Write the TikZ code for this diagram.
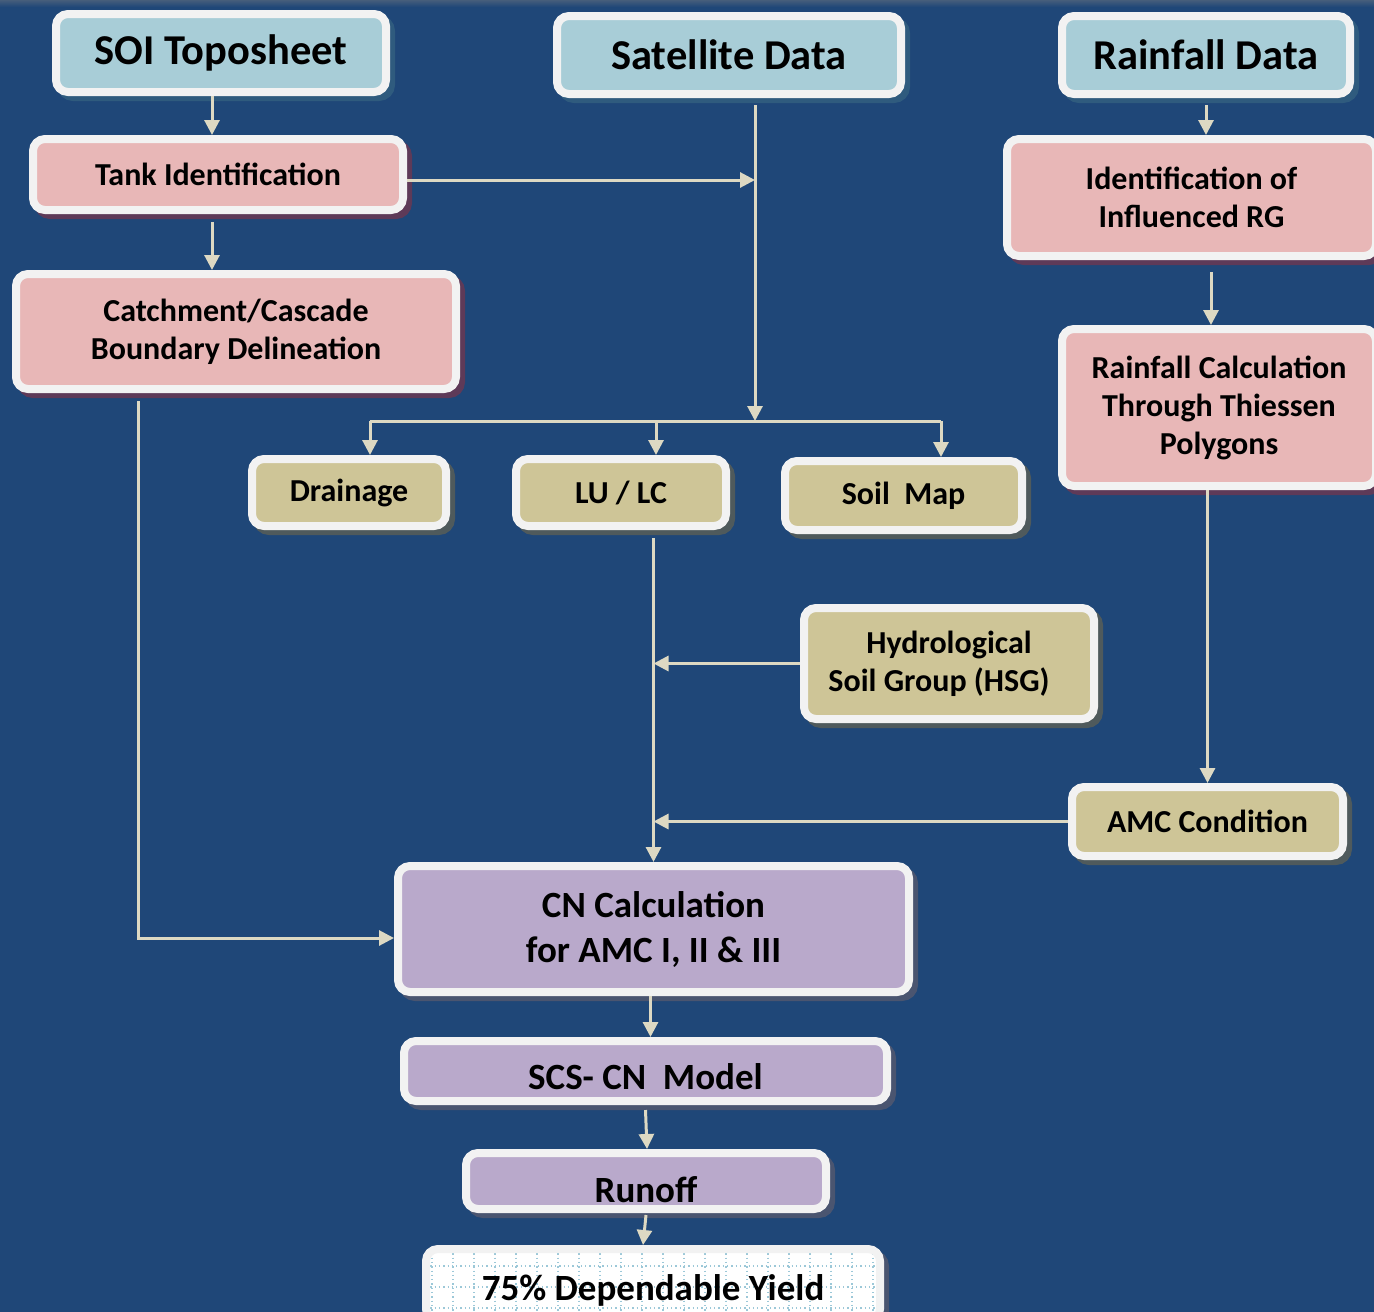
\documentclass[tikz,border=0pt]{standalone}
\usepackage{fontspec}
\setmainfont{Carlito}
\usetikzlibrary{arrows.meta,shadows}
\definecolor{bgc}{HTML}{1F4778}
\definecolor{bluec}{HTML}{A8CDD7}
\definecolor{pinkc}{HTML}{E8B7B7}
\definecolor{khakic}{HTML}{CEC597}
\definecolor{lavc}{HTML}{B9A9CB}
\definecolor{rimc}{HTML}{F2F2F2}
\definecolor{arrc}{HTML}{DDD9C3}
\definecolor{gridc}{HTML}{9CC8D8}
\definecolor{shblue}{HTML}{2F5B7E}
\definecolor{shpink}{HTML}{5E3A58}
\definecolor{shkhaki}{HTML}{4F5A5C}
\definecolor{shlav}{HTML}{4A5570}
\newcommand{\lowertext}[2]{\raisebox{-#1}[\height][\depth]{#2}}
\tikzset{
  box/.style={draw=rimc, line width=8pt, rounded corners=12pt, align=center,
    text=black, font=\bfseries\fontsize{32}{38}\selectfont, inner sep=0pt},
  shad/.style={drop shadow={shadow xshift=5pt, shadow yshift=-5pt, fill=#1, draw=#1, line width=8pt, opacity=1}},
  topbox/.style={box, fill=bluec, shad=shblue, font=\bfseries\fontsize{42.5}{50}\selectfont},
  pinkbox/.style={box, fill=pinkc, shad=shpink},
  khakibox/.style={box, fill=khakic, shad=shkhaki},
  lavbox/.style={box, fill=lavc, shad=shlav, font=\bfseries\fontsize{37}{45}\selectfont},
  arr/.style={draw=arrc, line width=3pt, -{Triangle[width=15pt,length=15pt]}},
  lin/.style={draw=arrc, line width=3pt},
}
\begin{document}
\begin{tikzpicture}[x=1pt,y=-1pt]
\useasboundingbox (0,0) rectangle (1374,1312);
\fill[bgc] (0,0) rectangle (1374,1312);
\shade[top color=bgc!60!gray, bottom color=bgc] (0,0) rectangle (1374,7);

% top row
\node[topbox, minimum width=330pt, minimum height=78pt] (soi) at (221,53) {SOI Toposheet};
\node[topbox, minimum width=344pt, minimum height=78pt] (sat) at (729,55) {Satellite Data};
\node[topbox, minimum width=288pt, minimum height=78pt] (rain) at (1206,55) {Rainfall Data};

% pink
\node[pinkbox, minimum width=370pt, minimum height=71pt] (tank) at (218,174.5) {Tank Identification};
\node[pinkbox, minimum width=369pt, minimum height=117pt] (idrg) at (1191.5,197.5) {Identification of\\Influenced RG};
\node[pinkbox, minimum width=440pt, minimum height=115pt] (catch) at (236,331.5) {Catchment/Cascade\\Boundary Delineation};
\node[pinkbox, minimum width=314pt, minimum height=157pt] (rcalc) at (1219,407.5) {Rainfall Calculation\\Through Thiessen\\Polygons};

% khaki
\node[khakibox, minimum width=194pt, minimum height=67pt] (drain) at (349,492.5) {Drainage};
\node[khakibox, minimum width=210pt, minimum height=67pt] (lulc) at (621,492.5) {LU / LC};
\node[khakibox, minimum width=237pt, minimum height=69pt] (soil) at (903.5,495.5) {Soil\ \ Map};
\node[khakibox, minimum width=290pt, minimum height=111pt] (hsg) at (949,663.5) {Hydrological\\\hspace*{-20pt}Soil Group (HSG)};
\node[khakibox, minimum width=271pt, minimum height=69pt] (amc) at (1207.5,821.5) {AMC Condition};

% lavender
\node[lavbox, minimum width=511pt, minimum height=126pt] (cn) at (653.5,929) {CN Calculation\\for AMC I, II \& III};
\node[lavbox, minimum width=483pt, minimum height=60pt] (scs) at (645.5,1071) {\lowertext{6pt}{SCS- CN\ \ Model}};
\node[lavbox, minimum width=360pt, minimum height=56pt] (runoff) at (646,1181) {\lowertext{9pt}{Runoff}};

% yield
\node[box, fill=white, shad=shlav, minimum width=454pt, minimum height=72pt,
  font=\bfseries\fontsize{37}{45}\selectfont,
  path picture={
    \foreach \i in {0,...,22}
      \draw[gridc, line width=1.3pt, dash pattern=on 1.3pt off 3pt]
        ([xshift=\i*21pt+6pt]path picture bounding box.north west) -- ([xshift=\i*21pt+6pt]path picture bounding box.south west);
    \foreach \j in {1,...,4}
      \draw[gridc, line width=1.3pt, dash pattern=on 1.3pt off 3pt]
        ([yshift=-\j*21pt+4pt]path picture bounding box.north west) -- ([yshift=-\j*21pt+4pt]path picture bounding box.north east);
  }] (yield) at (653,1285) {\lowertext{5pt}{75\% Dependable Yield}};

% junction coordinates
\coordinate (j1) at (755,180);
\coordinate (j2) at (755,421);
\coordinate (b1) at (370,421);
\coordinate (b2) at (656,421);
\coordinate (b3) at (941,421);
\coordinate (r2) at (1211,272);
\coordinate (c1) at (212,0);

% connectors
\draw[arr] (soi.south -| c1) -- (tank.north -| c1);
\draw[arr] ([yshift=-8pt]tank.south -| c1) -- (catch.north -| c1);
\draw[arr] (tank.east |- j1) -- (j1);
\draw[arr] ([xshift=26pt,yshift=-7pt]sat.south) -- (j2);
\draw[lin] (b1) -- (b3);
\draw[arr] (b1) -- (b1 |- drain.north);
\draw[arr] (b2) -- (b2 |- lulc.north);
\draw[arr] (b3) -- (b3 |- soil.north);
\draw[arr] ([yshift=-7pt]rain.south) -- (rain.south |- idrg.north);
\draw[arr] (r2) -- (r2 |- rcalc.north);
\draw[arr] (rcalc.south -| amc.north) -- (amc.north);
\draw[arr] ([yshift=-8pt]lulc.south -| cn.north) -- (cn.north);
\draw[arr] (hsg.west) -- (hsg.west -| cn.north);
\draw[arr] (amc.west) -- (amc.west -| cn.north);
\draw[arr] ([xshift=-98pt,yshift=-8pt]catch.south) |- ([yshift=-9pt]cn.west);
\draw[arr] ([xshift=-3pt]cn.south) -- ([xshift=-3pt]cn.south |- scs.north);
\draw[arr] ([yshift=-5pt]scs.south) -- ([xshift=1pt]runoff.north);
\draw[arr] ([yshift=-2pt]runoff.south) -- ([xshift=-10pt]yield.north);
\end{tikzpicture}
\end{document}
